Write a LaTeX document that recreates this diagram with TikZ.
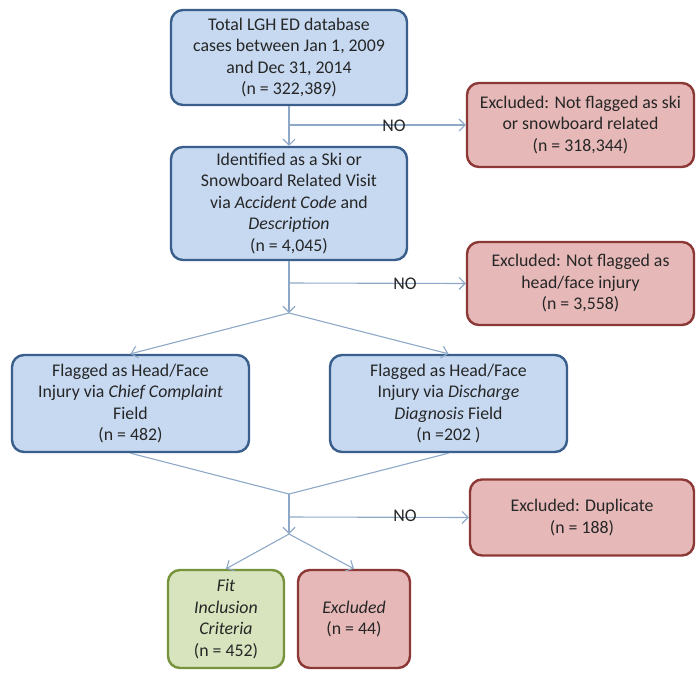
\documentclass[tikz,border=0pt]{standalone}
\usepackage{fontspec}
\setmainfont{Carlito}
\usetikzlibrary{arrows.meta}
\definecolor{bfill}{HTML}{C6D9F1}
\definecolor{bdraw}{HTML}{3A5F8C}
\definecolor{rfill}{HTML}{E6B9B8}
\definecolor{rdraw}{HTML}{8C3836}
\definecolor{gfill}{HTML}{D7E4BD}
\definecolor{gdraw}{HTML}{77933C}
\definecolor{lnk}{HTML}{8EA9C8}
\definecolor{txt}{HTML}{262626}
\tikzset{
  box/.style={draw, rounded corners=12pt, line width=2.4pt, align=center, inner sep=0pt,
    text=txt, font=\fontsize{17.8}{21.5}\selectfont},
  bluebox/.style={box, fill=bfill, draw=bdraw},
  redbox/.style={box, fill=rfill, draw=rdraw},
  greenbox/.style={box, fill=gfill, draw=gdraw},
  link/.style={draw=lnk, line width=1.1pt},
  arr/.style={link, -{Straight Barb[length=6pt,width=12pt,line width=1.1pt]}},
  nolabel/.style={text=txt, font=\fontsize{17.8}{20}\selectfont, inner sep=0pt}
}
\begin{document}
\begin{tikzpicture}[x=1pt,y=-1pt]
\useasboundingbox (0,0) rectangle (696,673);
\fill[white] (0,0) rectangle (696,673);

\node[bluebox, minimum width=236, minimum height=95] (b1) at (289,57.5)
  {Total LGH ED database\\cases between Jan 1, 2009\\and Dec 31, 2014\\(n = 322,389)};
\node[bluebox, minimum width=236, minimum height=113] (b2) at (289,203.5)
  {Identified as a Ski or\\Snowboard Related Visit\\via \textit{Accident Code} and\\\textit{Description}\\(n = 4,045)};
\node[redbox, minimum width=227, minimum height=84] (e1) at (580.5,125)
  {Excluded: Not flagged as ski\\or snowboard related\\(n = 318,344)};
\node[redbox, minimum width=227, minimum height=83] (e2) at (580.5,283.5)
  {Excluded: Not flagged as\\head/face injury\\(n = 3,558)};
\node[bluebox, minimum width=237, minimum height=97] (f1) at (130.5,403.5)
  {Flagged as Head/Face\\Injury via \textit{Chief Complaint}\\Field\\(n = 482)};
\node[bluebox, minimum width=237, minimum height=97] (f2) at (448.5,403.5)
  {Flagged as Head/Face\\Injury via \textit{Discharge}\\\textit{Diagnosis} Field\\(n =202 )};
\node[redbox, minimum width=224, minimum height=76] (e3) at (582,517.5)
  {Excluded: Duplicate\\(n = 188)};
\node[greenbox, minimum width=116, minimum height=98] (fit) at (226,619)
  {\textit{Fit}\\\textit{Inclusion}\\\textit{Criteria}\\(n = 452)};
\node[redbox, minimum width=112, minimum height=98] (exc) at (354,619)
  {\textit{Excluded}\\(n = 44)};

\coordinate (j1) at (289,125);
\coordinate (j2) at (289,283);
\coordinate (a1) at (289,313);
\coordinate (m) at (289,494);
\coordinate (j3) at (289,517);
\coordinate (a2) at (289,534);

\draw[arr] (b1) -- (b2);
\draw[arr] (j1) -- (e1.west);
\draw[arr] (b2) -- (a1);
\draw[arr] (j2) -- (e2.west);
\draw[arr] (a1) -- (f1.north);
\draw[arr] (a1) -- (f2.north);
\draw[link] (f1.south) -- (m);
\draw[link] (f2.south) -- (m);
\draw[arr] (m) -- (a2);
\draw[arr] (j3) -- (e3.west);
\draw[arr] (a2) -- (fit.north);
\draw[arr] (a2) -- (exc.north);

\node[nolabel] (no1) at (394,126) {NO};
\node[nolabel] (no2) at (405,284) {NO};
\node[nolabel] (no3) at (405,516) {NO};
\end{tikzpicture}
\end{document}
